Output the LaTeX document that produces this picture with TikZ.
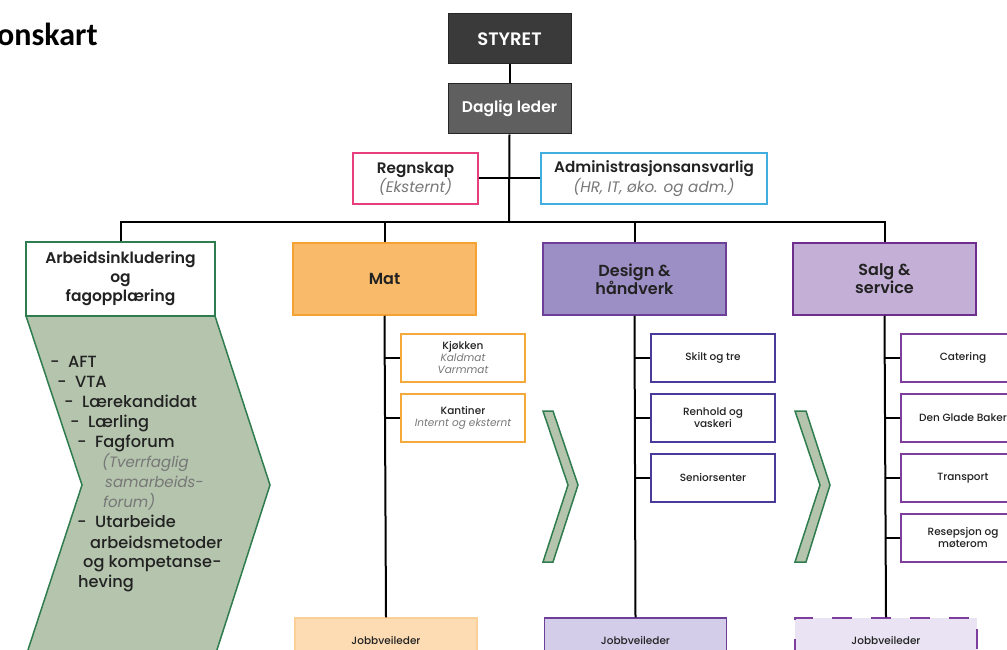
\documentclass[tikz,border=0pt]{standalone}
\usepackage{fontspec}
\setmainfont{Poppins}[BoldFont={Poppins Medium}]
\newfontfamily\semifont{Poppins SemiBold}
\newfontfamily\titlefont{Carlito}
\definecolor{txt}{HTML}{222222}
\definecolor{gry}{HTML}{777777}
\definecolor{styretc}{HTML}{3A3A3A}
\definecolor{dagligc}{HTML}{5F5F5F}
\definecolor{pinkc}{HTML}{E83E7E}
\definecolor{bluec}{HTML}{41AEE0}
\definecolor{greenc}{HTML}{2F7D4E}
\definecolor{chevc}{HTML}{B4C4AD}
\definecolor{matf}{HTML}{F9BB6A}
\definecolor{matd}{HTML}{F3A233}
\definecolor{subo}{HTML}{F5A93A}
\definecolor{jmf}{HTML}{FDDCB4}
\definecolor{jmd}{HTML}{FBCF98}
\definecolor{desf}{HTML}{9C8FC5}
\definecolor{desd}{HTML}{6E3F98}
\definecolor{subd}{HTML}{4A3B9A}
\definecolor{jdf}{HTML}{D3CDEA}
\definecolor{salf}{HTML}{C4AFD6}
\definecolor{sald}{HTML}{6D2E8E}
\definecolor{subs}{HTML}{7D3E9D}
\definecolor{jsf}{HTML}{E9E3F3}
\tikzset{
  conn/.style={draw=black, line width=2pt},
  topbox/.style={draw=black!85, line width=1pt, minimum width=123pt, minimum height=50pt, text=white, inner sep=0pt},
  midbox/.style={draw, line width=1.5pt, fill=white, minimum height=51pt, align=center, inner sep=0pt, font=\fontsize{15.2}{17}\selectfont, text=txt},
  deptbox/.style={draw, line width=1.5pt, minimum width=183pt, minimum height=72pt, align=center, inner sep=0pt, font=\semifont\fontsize{16}{18}\selectfont, text=txt},
  subbox/.style={draw, line width=1.2pt, fill=white, minimum width=124pt, minimum height=48pt, align=center, inner sep=0pt, font=\fontsize{10.5}{12}\selectfont\bfseries, text=txt},
  jobbox/.style={draw, line width=1.5pt, minimum width=182pt, minimum height=44pt, inner sep=0pt, font=\fontsize{10.5}{12}\selectfont\bfseries, text=txt},
  chev/.style={draw=greenc, line width=1.5pt, fill=chevc},
  li/.style={anchor=base west, inner sep=0pt, font=\fontsize{16.2}{20}\selectfont\bfseries, text=txt},
  lit/.style={anchor=base west, inner sep=0pt, font=\fontsize{15}{20}\selectfont\itshape, text=gry}
}
\begin{document}
\begin{tikzpicture}[x=1pt,y=-1pt]
\useasboundingbox (0,0) rectangle (1007,650);
\node[anchor=base west, inner sep=0pt, font=\titlefont\fontsize{32}{34}\selectfont\bfseries, text=black] (title) at (-3,46) {onskart};

% top
\node[topbox, fill=styretc, font=\semifont\fontsize{18}{20}\selectfont] (styret) at (509.5,39) {STYRET};
\node[topbox, fill=dagligc, font=\semifont\fontsize{15.5}{18}\selectfont] (daglig) at (509.5,109) {Daglig leder};
\node[midbox, draw=pinkc, minimum width=125pt] (regn) at (415.5,178.5) {{\semifont Regnskap}\\{\itshape\color{gry}(Eksternt)}};
\node[midbox, draw=bluec, minimum width=226pt] (admin) at (654,178.5) {{\semifont Administrasjonsansvarlig}\\{\itshape\color{gry}(HR, IT, øko. og adm.)}};
\coordinate (bus) at (509,222);

% departments
\node[deptbox, draw=greenc, fill=white, minimum width=189pt, minimum height=74pt, font=\semifont\fontsize{15.5}{19}\selectfont] (arb) at (120.5,279) {Arbeidsinkludering\\og\\fagopplæring};
\node[deptbox, draw=matd, fill=matf] (mat) at (384.5,279) {Mat};
\node[deptbox, draw=desd, fill=desf] (des) at (634.5,279) {Design \&\\håndverk};
\node[deptbox, draw=sald, fill=salf] (sal) at (884.5,279) {Salg \&\\service};

% connectors top
\draw[conn] (styret.south) -- (daglig.north);
\draw[conn] (daglig.south) -- (bus);
\draw[conn] (regn.east) -- (admin.west);
\draw[conn] (arb.north) -- (arb.north |- bus) -- (sal.north |- bus) -- (sal.north);
\draw[conn] (mat.north) -- (mat.north |- bus);
\draw[conn] (des.north) -- (des.north |- bus);

% big chevron
\draw[chev] (26,316) -- (215,316) -- (270,485) -- (215,656) -- (26,656) -- (82,485) -- cycle;
\node[li] (l1) at (50,367) {-\ \ AFT};
\node[li] (l2) at (57,387) {-\ \ VTA};
\node[li] (l3) at (64,407) {-\ \ Lærekandidat};
\node[li] (l4) at (70,427) {-\ \ Lærling};
\node[li] (l5) at (77,447) {-\ \ Fagforum};
\node[lit] (l6) at (102,467) {(Tverrfaglig};
\node[lit] (l7) at (105,487) {samarbeids-};
\node[lit] (l8) at (103,507) {forum)};
\node[li] (l9) at (77,527) {-\ \ Utarbeide};
\node[li] (l10) at (90,548) {arbeidsmetoder};
\node[li] (l11) at (83,567) {og kompetanse-};
\node[li] (l12) at (78,587) {heving};

% small chevrons
\draw[chev] (543,411) -- (553,411) -- (578,485) -- (553,562) -- (543,562) -- (568,485) -- cycle;
\draw[chev] (795,411) -- (806,411) -- (830,485) -- (806,562) -- (795,562) -- (820,485) -- cycle;

% Mat column
\node[subbox, draw=subo] (kj) at (463,358) {Kjøkken\\{\mdseries\itshape\color{gry}Kaldmat}\\{\mdseries\itshape\color{gry}Varmmat}};
\node[subbox, draw=subo] (ka) at (463,418) {Kantiner\\{\mdseries\itshape\color{gry}Internt og eksternt}};
\node[jobbox, draw=jmd, fill=jmf] (jm) at (386,640) {Jobbveileder};
\draw[conn] (mat.south) -- (jm.north);
\draw[conn] (kj.west) -- (kj.west -| mat.south);
\draw[conn] (ka.west) -- (ka.west -| mat.south);

% Design column
\node[subbox, draw=subd] (sk) at (713,358) {Skilt og tre};
\node[subbox, draw=subd] (re) at (713,418) {Renhold og\\vaskeri};
\node[subbox, draw=subd] (se) at (713,478) {Seniorsenter};
\node[jobbox, draw=desd, fill=jdf] (jd) at (635.5,640) {Jobbveileder};
\draw[conn] (des.south) -- (jd.north);
\draw[conn] (sk.west) -- (sk.west -| des.south);
\draw[conn] (re.west) -- (re.west -| des.south);
\draw[conn] (se.west) -- (se.west -| des.south);

% Salg column
\node[subbox, draw=subs] (ca) at (963,358) {Catering};
\node[subbox, draw=subs] (dg) at (963,418) {Den Glade Baker};
\node[subbox, draw=subs] (tr) at (963,478) {Transport};
\node[subbox, draw=subs] (rs) at (963,538) {Resepsjon og\\møterom};
\node[jobbox, draw=subs, fill=jsf, dash pattern=on 20pt off 19pt] (js) at (886,640) {Jobbveileder};
\draw[conn] (sal.south) -- (js.north);
\draw[conn] (ca.west) -- (ca.west -| sal.south);
\draw[conn] (dg.west) -- (dg.west -| sal.south);
\draw[conn] (tr.west) -- (tr.west -| sal.south);
\draw[conn] (rs.west) -- (rs.west -| sal.south);
\end{tikzpicture}
\end{document}
